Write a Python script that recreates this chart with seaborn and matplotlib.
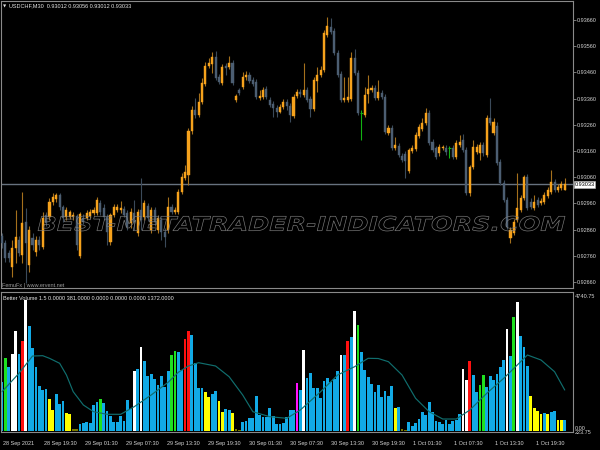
import numpy as np
import matplotlib
matplotlib.use("Agg")
import matplotlib.pyplot as plt
import seaborn as sns
from matplotlib.textpath import TextPath
from matplotlib.patches import PathPatch
from matplotlib.font_manager import FontProperties
from matplotlib.transforms import Affine2D, IdentityTransform, ScaledTranslation

# ---------------- data ----------------
symbol_title = "USDCHF,M30  0.93012 0.93056 0.93012 0.93033"
indicator_title = "Better Volume 1.5 0.0000 381.0000 0.0000 0.0000 0.0000 1372.0000"
last_price = 0.93033
price_ticks = [0.92660, 0.92760, 0.92860, 0.92960, 0.93060, 0.93160,
               0.93260, 0.93360, 0.93460, 0.93560, 0.93660]
vol_max_label = "4740.75"
vol_min_labels = ["0.00", "223.75"]
time_labels = ["28 Sep 2021", "28 Sep 19:30", "29 Sep 01:30", "29 Sep 07:30",
               "29 Sep 13:30", "29 Sep 19:30", "30 Sep 01:30", "30 Sep 07:30",
               "30 Sep 13:30", "30 Sep 19:30", "1 Oct 01:30", "1 Oct 07:30",
               "1 Oct 13:30", "1 Oct 19:30"]

opens = [0.92836, 0.92809, 0.92771, 0.92717, 0.92790, 0.92820, 0.92763, 0.92889, 0.92725, 0.92828,
         0.92774, 0.92820, 0.92794, 0.92916, 0.92908, 0.92965, 0.92977, 0.92992, 0.92946, 0.92908,
         0.92908, 0.92908, 0.92912, 0.92759, 0.92904, 0.92904, 0.92912, 0.92923, 0.92923, 0.92961,
         0.92942, 0.92908, 0.92813, 0.92916, 0.92935, 0.92935, 0.92939, 0.92923, 0.92885, 0.92923,
         0.92847, 0.92935, 0.92908, 0.92950, 0.92858, 0.92935, 0.92858, 0.92897, 0.92851, 0.92858,
         0.92946, 0.92927, 0.92927, 0.93003, 0.93057, 0.93068, 0.93236, 0.93316, 0.93297, 0.93347,
         0.93416, 0.93484, 0.93492, 0.93519, 0.93442, 0.93420, 0.93484, 0.93481, 0.93496, 0.93355,
         0.93393, 0.93404, 0.93442, 0.93450, 0.93431, 0.93423, 0.93362, 0.93366, 0.93397, 0.93355,
         0.93339, 0.93324, 0.93309, 0.93328, 0.93347, 0.93332, 0.93294, 0.93370, 0.93385, 0.93374,
         0.93393, 0.93358, 0.93320, 0.93427, 0.93450, 0.93469, 0.93603, 0.93633, 0.93618, 0.93534,
         0.93454, 0.93355, 0.93355, 0.93358, 0.93515, 0.93458, 0.93305, 0.93297, 0.93378, 0.93393,
         0.93400, 0.93362, 0.93381, 0.93366, 0.93229, 0.93248, 0.93171, 0.93179, 0.93141, 0.93149,
         0.93084, 0.93160, 0.93168, 0.93217, 0.93244, 0.93267, 0.93305, 0.93194, 0.93171, 0.93152,
         0.93171, 0.93171, 0.93171, 0.93171, 0.93137, 0.93183, 0.93202, 0.93164, 0.93000, 0.93099,
         0.93156, 0.93152, 0.93183, 0.93145, 0.93286, 0.93229, 0.93255, 0.93118, 0.93038, 0.92973,
         0.92828, 0.92847, 0.92897, 0.92935, 0.92981, 0.93061, 0.92965, 0.92942, 0.92973, 0.92961,
         0.92965, 0.92988, 0.93003, 0.93042, 0.93011, 0.93019, 0.93012]
closes = [0.92809, 0.92752, 0.92752, 0.92790, 0.92832, 0.92771, 0.92885, 0.92809, 0.92858, 0.92801,
          0.92820, 0.92801, 0.92904, 0.92885, 0.92965, 0.92984, 0.92992, 0.92946, 0.92904, 0.92935,
          0.92927, 0.92916, 0.92801, 0.92920, 0.92889, 0.92923, 0.92927, 0.92935, 0.92973, 0.92927,
          0.92908, 0.92851, 0.92916, 0.92946, 0.92946, 0.92942, 0.92916, 0.92870, 0.92927, 0.92889,
          0.92927, 0.92897, 0.92961, 0.92904, 0.92935, 0.92889, 0.92904, 0.92851, 0.92832, 0.92946,
          0.92927, 0.92935, 0.93003, 0.93061, 0.93080, 0.93236, 0.93316, 0.93297, 0.93347, 0.93420,
          0.93484, 0.93496, 0.93519, 0.93439, 0.93423, 0.93481, 0.93477, 0.93496, 0.93420, 0.93370,
          0.93381, 0.93442, 0.93450, 0.93427, 0.93416, 0.93366, 0.93370, 0.93393, 0.93366, 0.93336,
          0.93324, 0.93309, 0.93328, 0.93347, 0.93332, 0.93297, 0.93366, 0.93385, 0.93378, 0.93393,
          0.93355, 0.93320, 0.93431, 0.93450, 0.93469, 0.93610, 0.93637, 0.93614, 0.93534, 0.93450,
          0.93355, 0.93362, 0.93366, 0.93515, 0.93458, 0.93305, 0.93305, 0.93374, 0.93397, 0.93400,
          0.93362, 0.93385, 0.93366, 0.93233, 0.93248, 0.93171, 0.93183, 0.93145, 0.93126, 0.93122,
          0.93164, 0.93171, 0.93221, 0.93252, 0.93267, 0.93305, 0.93191, 0.93164, 0.93137, 0.93175,
          0.93175, 0.93156, 0.93171, 0.93137, 0.93191, 0.93194, 0.93164, 0.93000, 0.93099, 0.93175,
          0.93175, 0.93183, 0.93152, 0.93286, 0.93267, 0.93271, 0.93114, 0.93038, 0.92973, 0.92870,
          0.92858, 0.92889, 0.92942, 0.92981, 0.93061, 0.92942, 0.92946, 0.92965, 0.92954, 0.92969,
          0.92992, 0.93011, 0.93042, 0.93011, 0.93023, 0.93034, 0.93033]
highs = [0.92847, 0.92820, 0.92782, 0.92820, 0.92935, 0.92836, 0.93003, 0.92942, 0.92874, 0.92847,
         0.92836, 0.92836, 0.92927, 0.92927, 0.92981, 0.93000, 0.93000, 0.93000, 0.92954, 0.92946,
         0.92935, 0.92927, 0.92920, 0.92927, 0.92920, 0.92935, 0.92939, 0.92946, 0.92984, 0.92973,
         0.92958, 0.92920, 0.92923, 0.92958, 0.92958, 0.92969, 0.92950, 0.92935, 0.92942, 0.92973,
         0.92939, 0.93057, 0.92973, 0.92961, 0.92946, 0.92946, 0.92916, 0.92908, 0.92866, 0.92984,
         0.92958, 0.92946, 0.93015, 0.93076, 0.93107, 0.93248, 0.93332, 0.93362, 0.93381, 0.93439,
         0.93500, 0.93515, 0.93538, 0.93542, 0.93454, 0.93492, 0.93496, 0.93523, 0.93507, 0.93378,
         0.93400, 0.93461, 0.93465, 0.93461, 0.93442, 0.93435, 0.93393, 0.93404, 0.93408, 0.93366,
         0.93351, 0.93336, 0.93339, 0.93358, 0.93358, 0.93343, 0.93378, 0.93397, 0.93397, 0.93496,
         0.93404, 0.93370, 0.93442, 0.93481, 0.93484, 0.93622, 0.93671, 0.93668, 0.93629, 0.93545,
         0.93465, 0.93442, 0.93442, 0.93538, 0.93549, 0.93469, 0.93316, 0.93404, 0.93450, 0.93412,
         0.93412, 0.93431, 0.93393, 0.93378, 0.93259, 0.93259, 0.93213, 0.93191, 0.93152, 0.93160,
         0.93171, 0.93183, 0.93233, 0.93263, 0.93286, 0.93324, 0.93316, 0.93206, 0.93179, 0.93187,
         0.93183, 0.93183, 0.93179, 0.93183, 0.93202, 0.93221, 0.93225, 0.93175, 0.93107, 0.93202,
         0.93187, 0.93194, 0.93194, 0.93297, 0.93362, 0.93286, 0.93271, 0.93129, 0.93049, 0.92984,
         0.92870, 0.92900, 0.93076, 0.92992, 0.93068, 0.93072, 0.92981, 0.92992, 0.92984, 0.92981,
         0.93003, 0.93023, 0.93087, 0.93053, 0.93034, 0.93045, 0.93056]
lows = [0.92790, 0.92736, 0.92736, 0.92679, 0.92732, 0.92759, 0.92732, 0.92656, 0.92698, 0.92782,
        0.92759, 0.92782, 0.92786, 0.92874, 0.92897, 0.92954, 0.92965, 0.92935, 0.92889, 0.92897,
        0.92900, 0.92897, 0.92782, 0.92752, 0.92881, 0.92897, 0.92904, 0.92916, 0.92916, 0.92916,
        0.92897, 0.92801, 0.92801, 0.92908, 0.92927, 0.92923, 0.92908, 0.92858, 0.92866, 0.92858,
        0.92836, 0.92858, 0.92897, 0.92893, 0.92847, 0.92874, 0.92847, 0.92820, 0.92794, 0.92847,
        0.92920, 0.92920, 0.92920, 0.92996, 0.93049, 0.93030, 0.93225, 0.93286, 0.93290, 0.93339,
        0.93408, 0.93477, 0.93458, 0.93431, 0.93416, 0.93412, 0.93450, 0.93473, 0.93412, 0.93347,
        0.93374, 0.93397, 0.93431, 0.93420, 0.93408, 0.93358, 0.93355, 0.93358, 0.93358, 0.93328,
        0.93290, 0.93290, 0.93305, 0.93320, 0.93316, 0.93271, 0.93286, 0.93362, 0.93366, 0.93366,
        0.93347, 0.93290, 0.93313, 0.93385, 0.93442, 0.93461, 0.93595, 0.93607, 0.93526, 0.93442,
        0.93347, 0.93347, 0.93347, 0.93351, 0.93450, 0.93297, 0.93202, 0.93290, 0.93343, 0.93385,
        0.93355, 0.93355, 0.93358, 0.93225, 0.93221, 0.93164, 0.93164, 0.93137, 0.93118, 0.93057,
        0.93076, 0.93152, 0.93160, 0.93210, 0.93236, 0.93259, 0.93183, 0.93156, 0.93129, 0.93141,
        0.93164, 0.93145, 0.93133, 0.93129, 0.93129, 0.93175, 0.93156, 0.92992, 0.92988, 0.93091,
        0.93149, 0.93126, 0.93141, 0.93137, 0.93259, 0.93221, 0.93107, 0.93030, 0.92965, 0.92862,
        0.92809, 0.92839, 0.92889, 0.92927, 0.92973, 0.92935, 0.92939, 0.92935, 0.92946, 0.92954,
        0.92958, 0.92981, 0.92996, 0.93003, 0.93003, 0.93011, 0.93012]

volumes = [1693, 2518, 2209, 2635, 3435, 2655, 3092, 4510, 3607, 2841,
           2209, 1556, 1419, 1443, 1110, 721, 1261, 938, 1031, 618,
           574, 69, 52, 230, 285, 309, 285, 893, 1006, 1099,
           951, 687, 526, 309, 299, 526, 344, 1065, 766, 2061,
           2130, 2875, 2405, 1889, 1948, 1797, 1580, 1889, 1522, 2061,
           2600, 2748, 2703, 2085, 3171, 3435, 3298, 2325, 1467, 1477,
           1340, 1178, 1281, 1364, 1031, 642, 756, 711, 618, 52,
           40, 299, 333, 457, 436, 1192, 550, 481, 481, 780,
           515, 230, 230, 264, 481, 721, 711, 1649, 1419, 2772,
           1810, 2003, 1487, 1467, 1134, 1718, 1821, 1693, 1786, 2071,
           2600, 2600, 3092, 3229, 4132, 3651, 2703, 2085, 1845, 1604,
           1329, 1590, 1168, 1364, 1192, 1556, 780, 824, 69, 35,
           319, 182, 285, 412, 642, 539, 986, 653, 333, 299,
           230, 368, 230, 344, 368, 574, 2140, 1742, 2394, 1924,
           1329, 1580, 1913, 1522, 1889, 1742, 1958, 2209, 2439, 3504,
           2576, 3906, 4421, 3274, 2885, 2222, 1192, 780, 677, 574,
           629, 574, 642, 687, 378, 378, 378]
# bar class: B normal, G churn, W climax down, R climax up, Y low volume, M climax churn, O tiny
vol_class = list("BGBWWBRWBB" "BBBBYYBBBY" "YOOBBBBBBG" "BBBBBBBBBW" "BWBBBBBBBB"
                 "GGBBRRBBBB" "YYBBYYBBYO" "OBBBBBBBBB" "BBBBBBBMBW" "BBBBBBBBBB"
                 "WBRBWGBBBB" "BBBBBBYBOO" "BBBBBBBBBB" "BBBBBBWWRB" "BGGBBBBBBW"
                 "BGWBBBYYYY" "BYBBYYB")
ma_idx = [0, 5, 9, 12, 14, 17, 19, 21, 24, 27, 31, 35, 39, 44, 49, 52, 55, 58, 63, 67,
          71, 74, 79, 84, 88, 94, 99, 104, 108, 111, 114, 118, 122, 126, 130, 134, 138, 143, 148, 152,
          155, 159, 163, 166]
ma_val = [1350, 1982, 2576, 2587, 2497, 2326, 1924, 1350, 893, 663, 574, 574, 835, 1237, 1673, 2016, 2233, 2346, 2233, 1865,
          1237, 663, 491, 436, 721, 1350, 1924, 2209, 2497, 2490, 2380, 1924, 1123, 663, 412, 412, 721, 1295, 1810, 2267,
          2611, 2439, 2037, 1408]

# ---------------- styling ----------------
BG = "black"
FRAME = "#8a8a8a"
TXT = "#d4d4d4"
UP_BODY, UP_WICK = "#f6a21c", "#a5701c"
DN_BODY, DN_WICK = "#4c5e72", "#3b4a5a"
class_colors = {"B": "#12aae6", "G": "#1fe01f", "W": "#ffffff", "R": "#ff1010",
                "Y": "#ffff00", "M": "#ff10ff", "O": "#7a7a00"}

sns.set_theme(style="dark", rc={"axes.facecolor": BG, "figure.facecolor": BG,
                                "axes.edgecolor": FRAME, "axes.grid": False,
                                "text.color": TXT, "xtick.color": FRAME, "ytick.color": FRAME})
plt.rcParams["font.family"] = ["Liberation Sans", "DejaVu Sans"]

W, H = 600, 450
fig = plt.figure(figsize=(6, 4.5), dpi=100, facecolor=BG)


def rect(x0, y0, x1, y1):
    return [x0 / W, 1 - y1 / H, (x1 - x0) / W, (y1 - y0) / H]


ax_p = fig.add_axes(rect(1, 1, 572.7, 288))
ax_v = fig.add_axes(rect(1, 292, 572.7, 431.5))
XLIM = (-0.3, 168.35)

# ---------------- price pane ----------------
o = np.array(opens); c = np.array(closes); h = np.array(highs); l = np.array(lows)
x = np.arange(len(c))
up = c > o
dn = c < o
dj = c == o
ax_p.axhline(last_price, color="#67727f", lw=1.0, zorder=0.5)
ax_p.vlines(x[up], l[up], h[up], color=UP_WICK, lw=0.8, zorder=2)
ax_p.vlines(x[dn], l[dn], h[dn], color=DN_WICK, lw=0.8, zorder=2)
ax_p.bar(x[up], (c - o)[up], bottom=o[up], width=0.62, color=UP_BODY,
         edgecolor=UP_BODY, linewidth=0.3, zorder=3)
ax_p.bar(x[dn], (c - o)[dn], bottom=o[dn], width=0.62, color=DN_BODY,
         edgecolor=DN_BODY, linewidth=0.3, zorder=3)
ax_p.vlines(x[dj], l[dj], h[dj], color="#12b312", lw=0.8, zorder=3)
ax_p.hlines(o[dj], x[dj] - 0.35, x[dj] + 0.35, color="#12b312", lw=0.8, zorder=3)

ax_p.set_xlim(*XLIM)
ax_p.set_ylim(0.92637, 0.93733)
ax_p.set_xticks([])
ax_p.yaxis.tick_right()
ax_p.set_yticks(price_ticks)
ax_p.set_yticklabels([f"{v:.5f}" for v in price_ticks])
ax_p.tick_params(axis="y", labelsize=4, labelcolor=TXT, length=2, width=0.6, pad=1.2, color=FRAME)
for s in ax_p.spines.values():
    s.set_color(FRAME); s.set_linewidth(0.8)

# ---------------- volume pane ----------------
sns.barplot(x=x, y=volumes, hue=vol_class, palette=class_colors, dodge=False, legend=False,
            native_scale=True, saturation=1, errorbar=None, width=0.82, linewidth=0, ax=ax_v)
sns.lineplot(x=ma_idx, y=ma_val, color="#106e6e", lw=0.85, ax=ax_v, zorder=4)
ax_v.set_xlim(*XLIM)
ax_v.set_ylim(-17, 4775)
ax_v.set_yticks([])
ax_v.set_xlabel(""); ax_v.set_ylabel("")
tick_pos = [k * 12.11 - 0.3 for k in range(len(time_labels))]
ax_v.set_xticks(tick_pos)
ax_v.set_xticklabels(time_labels)
ax_v.tick_params(axis="x", labelsize=4, labelcolor=TXT, length=3, width=0.6, pad=3.5,
                 color=FRAME, direction="out")
off = ScaledTranslation(1.5 / 100, 0, fig.dpi_scale_trans)
for lab in ax_v.get_xticklabels():
    lab.set_horizontalalignment("left")
    lab.set_transform(lab.get_transform() + off)
for s in ax_v.spines.values():
    s.set_color(FRAME); s.set_linewidth(0.8)

# ---------------- texts ----------------
def ftext(px, py, s, **kw):
    kw.setdefault("fontsize", 4)
    kw.setdefault("color", TXT)
    kw.setdefault("va", "center")
    return fig.text(px / W, 1 - py / H, s, **kw)

ftext(2.5, 6, "\u25bc", fontsize=3, family=["DejaVu Sans"], color="#e0e0e0")
ftext(9, 6, symbol_title, color="#e6e6e6")
ftext(2, 285.5, "FemuFx | www.ervent.net", color="#9a9a9a")
ftext(3, 298, indicator_title, color="#e6e6e6")
ftext(575, 297, vol_max_label)
ftext(575, 428.5, vol_min_labels[0])
ftext(575, 433, vol_min_labels[1])
ftext(574.5, 184.3, f"{last_price:.5f}", color="black",
      bbox=dict(boxstyle="square,pad=0.15", fc="white", ec="#bbbbbb", lw=0.4))

# watermark (outlined, stretched)
tp = TextPath((0, 0), "BEST-METATRADER-INDICATORS.COM", size=10,
              prop=FontProperties(family="DejaVu Sans", weight="bold", style="italic"))
bb = tp.get_extents()
sx = (565 - 38) / bb.width
sy = 15.0 / bb.height
tr = Affine2D().translate(-bb.x0, -bb.y0).scale(sx, sy).translate(38, H - 231)
fig.add_artist(PathPatch(tp, transform=tr + IdentityTransform(), fc="none",
                         ec="#808080", lw=0.45, zorder=20))

fig.savefig("out.png", dpi=100, facecolor=BG)
